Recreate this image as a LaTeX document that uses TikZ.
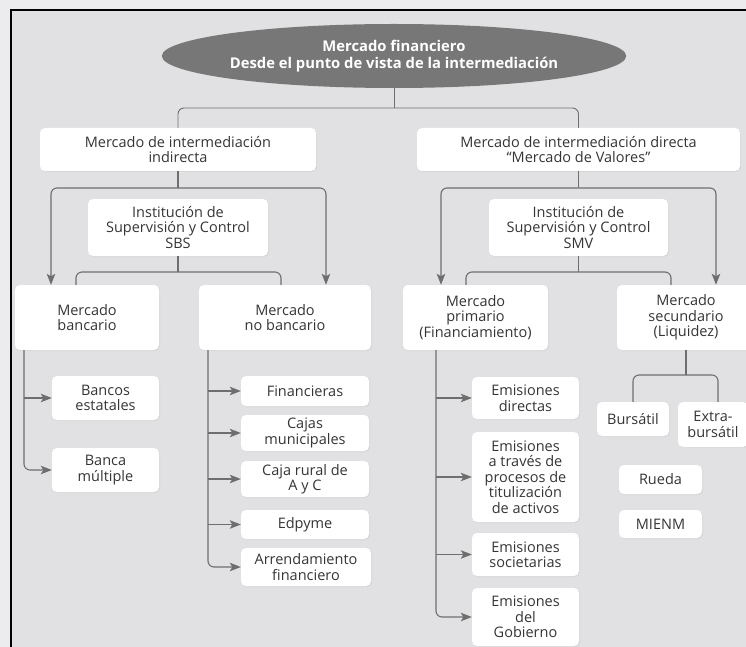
\documentclass[tikz,border=0pt]{standalone}
\usepackage{fontspec}
\setmainfont{Open Sans}
\usetikzlibrary{arrows.meta,shapes.geometric,shadows}
\definecolor{bgin}{HTML}{E1E1E3}
\definecolor{bgout}{HTML}{ECECEF}
\definecolor{linec}{HTML}{6E6E6E}
\definecolor{txt}{HTML}{353535}
\definecolor{ellc}{HTML}{777777}
\tikzset{
  box/.style={rectangle, rounded corners=5pt, fill=white, align=center,
    inner sep=0pt, text=txt, font=\fontsize{14.5}{15.5}\selectfont,
    drop shadow={opacity=0.10, shadow xshift=1pt, shadow yshift=-1pt}},
  conn/.style={draw=linec, line width=1.1pt, rounded corners=6pt},
  arr/.style={conn, -{Stealth[length=11pt,width=8.5pt,inset=2.5pt]}},
}
\begin{document}
\begin{tikzpicture}[x=1pt,y=-1pt]
\useasboundingbox (0,0) rectangle (746,647);
\clip (0,0) rectangle (746,647);
\fill[bgout] (0,0) rectangle (746,647);
\fill[bgin] (11,10) rectangle (760,660);
\draw[black, line width=2.2pt] (11,660) -- (11,10) -- (760,10);

% nodes
\node[ellipse, fill=ellc, minimum width=413, minimum height=64, inner sep=0pt,
  text=white, align=center, font=\bfseries\fontsize{14.8}{16.5}\selectfont] (top) at (394,56)
  {Mercado financiero\\Desde el punto de vista de la intermediación};

\node[box, minimum width=276, minimum height=43] (ind) at (178,149.5) {Mercado de intermediación\\indirecta};
\node[box, minimum width=323, minimum height=43] (dir) at (578.5,149.5) {Mercado de intermediación directa\\“Mercado de Valores”};
\node[box, minimum width=180, minimum height=57] (sbs) at (178,227.5) {Institución de\\Supervisión y Control\\SBS};
\node[box, minimum width=179, minimum height=57] (smv) at (578.5,227.5) {Institución de\\Supervisión y Control\\SMV};

\node[box, minimum width=144, minimum height=65] (banc) at (87,317.5) {Mercado\\bancario};
\node[box, minimum width=172, minimum height=65] (nobanc) at (285,317.5) {Mercado\\no bancario};
\node[box, minimum width=145, minimum height=65] (prim) at (475.5,317.5) {Mercado\\primario\\(Financiamiento)};
\node[box, minimum width=138, minimum height=65] (sec) at (686,317.5) {Mercado\\secundario\\(Liquidez)};

\node[box, minimum width=107, minimum height=44] (be) at (105.5,398) {Bancos\\estatales};
\node[box, minimum width=107, minimum height=44] (bm) at (105.5,470) {Banca\\múltiple};

\node[box, minimum width=128, minimum height=30] (fin) at (305,391) {Financieras};
\node[box, minimum width=128, minimum height=36] (caj) at (305,433) {Cajas\\municipales};
\node[box, minimum width=128, minimum height=36] (cr) at (305,479) {Caja rural de\\A y C};
\node[box, minimum width=128, minimum height=29] (edp) at (305,524.5) {Edpyme};
\node[box, minimum width=130, minimum height=38] (arr) at (306,567) {Arrendamiento\\financiero};

\node[box, minimum width=107, minimum height=42] (em1) at (525.5,398) {Emisiones\\directas};
\node[box, minimum width=107, minimum height=90] (em2) at (525.5,477) {Emisiones\\a través de\\procesos de\\titulización\\de activos};
\node[box, minimum width=107, minimum height=43] (em3) at (525.5,554.5) {Emisiones\\societarias};
\node[box, minimum width=107, minimum height=58] (em4) at (525.5,617) {Emisiones\\del\\Gobierno};

\node[box, minimum width=72, minimum height=34] (bur) at (633,419) {Bursátil};
\node[box, minimum width=70, minimum height=45] (ext) at (713,424.5) {Extra-\\bursátil};
\node[box, minimum width=83, minimum height=29] (rue) at (660.5,479.5) {Rueda};
\node[box, minimum width=83, minimum height=28] (mie) at (660.5,524) {MIENM};

% junctions
\coordinate (j0) at (394,108);
\coordinate (j1) at (178,188);
\coordinate (j2) at (578.5,188);
\coordinate (j3) at (178,272);
\coordinate (j4) at (578.5,272);
\coordinate (j5) at (686,375);
\coordinate (bl) at ([xshift=-63pt]banc.south);
\coordinate (nl) at ([xshift=-77pt]nobanc.south);
\coordinate (pl) at ([xshift=-39.5pt]prim.south);

% connectors
\draw[conn, line width=0.9pt] (top.south) -- (j0);
\draw[conn, line width=0.9pt] (j0) -| (ind.north);
\draw[conn, line width=0.9pt] (j0) -| (dir.north);

\draw[conn] (ind.south) -- (j1);
\draw[arr] (j1) -| ([xshift=-36pt]banc.north);
\draw[arr] (j1) -| ([xshift=41pt]nobanc.north);
\draw[conn] (dir.south) -- (j2);
\draw[arr] (j2) -| ([xshift=-34.5pt]prim.north);
\draw[arr] (j2) -| ([xshift=30pt]sec.north);

\draw[conn] (sbs.south) -- (j3);
\draw[conn] (j3) -| ([xshift=-11pt]banc.north);
\draw[conn] (j3) -| ([xshift=-4pt]nobanc.north);
\draw[conn] (smv.south) -- (j4);
\draw[conn] (j4) -| ([xshift=-9.5pt]prim.north);
\draw[conn] (j4) -| ([xshift=-15pt]sec.north);

\draw[arr] (bl) |- (bm.west);
\draw[arr] (bl |- be.west) -- (be.west);

\draw[arr] (nl) |- (arr.west);
\draw[arr] (nl |- fin.west) -- (fin.west);
\draw[arr] (nl |- caj.west) -- (caj.west);
\draw[arr] (nl |- cr.west) -- (cr.west);
\draw[arr] (nl |- edp.west) -- (edp.west);

\draw[arr] (pl) |- (em4.west);
\draw[arr] (pl |- em1.west) -- (em1.west);
\draw[arr] (pl |- em2.west) -- (em2.west);
\draw[arr] (pl |- em3.west) -- (em3.west);

\draw[conn] (sec.south) -- (j5);
\draw[conn] (j5) -| (bur.north);
\draw[conn] (j5) -| ([xshift=5pt]ext.north);
\end{tikzpicture}
\end{document}
